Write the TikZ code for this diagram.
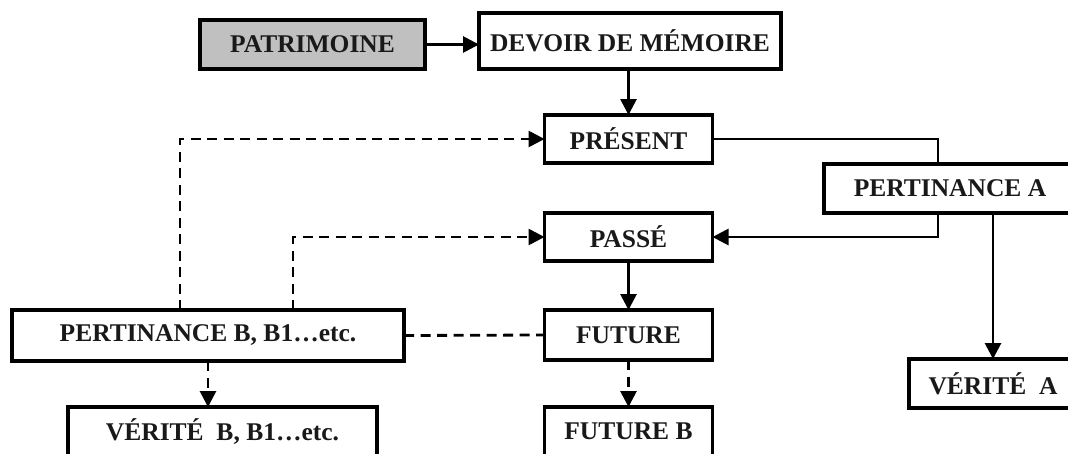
\documentclass[tikz,border=0pt]{standalone}
\usepackage{fontspec}
\setmainfont{Liberation Serif}
\usetikzlibrary{arrows.meta}
\definecolor{boxgray}{RGB}{192,192,192}
\tikzset{
  box/.style={draw=black, line width=3.2pt, fill=white, inner sep=0pt, outer sep=0pt,
    font=\fontsize{25.5}{30}\selectfont\bfseries, text=black!90},
  conn/.style={line width=2.8pt, draw=black},
  tip/.style={-{Triangle[length=16pt,width=16pt]}},
  dashconn/.style={conn, dash pattern=on 10pt off 6.5pt}
}
\begin{document}
\begin{tikzpicture}[x=1pt,y=-1pt]
\useasboundingbox (0,0) rectangle (1068,453);
\clip (0,0) rectangle (1068,453);
\fill[white] (0,0) rectangle (1068,453);
% boxes
\node[box, fill=boxgray, minimum width=225, minimum height=49] (pat) at (312.5,44.5) {PATRIMOINE};
\node[box, minimum width=302, minimum height=56] (dev) at (630,41) {DEVOIR DE MÉMOIRE};
\node[box, minimum width=168, minimum height=48] (pre) at (628.5,139) {PRÉSENT};
\node[box, minimum width=168, minimum height=48] (pas) at (628.5,237) {PASSÉ};
\node[box, minimum width=168, minimum height=50] (fut) at (628.5,335) {FUTURE};
\node[box, minimum width=168, minimum height=49] (fub) at (628.5,431.5) {FUTURE B};
\node[box, minimum width=392, minimum height=51] (pb) at (208,335.5) {PERTINANCE B, B1…etc.};
\node[box, minimum width=309, minimum height=49] (vb) at (222.5,431.5) {VÉRITÉ\enspace B, B1…etc.};
\node[box, minimum width=252, minimum height=49] (pa) at (950,188.5) {PERTINANCE A};
\node[box, minimum width=168, minimum height=49] (va) at (993,383.5) {VÉRITÉ\enspace A};
% solid connectors
\draw[conn, tip] (pat.east) -- (pat.east -| dev.west);
\draw[conn, tip] (pre.north |- dev.south) -- (pre.north);
\draw[conn, tip] (pas.south) -- (fut.north);
\draw[conn] (pre.east) -| ([xshift=-12]pa.north);
\draw[conn, tip] ([xshift=-12]pa.south) |- (pas.east);
\draw[conn, tip] (va.north |- pa.south) -- (va.north);
% dashed connectors
\draw[dashconn, tip] ([xshift=-28]pb.north) |- (pre.west);
\draw[dashconn, tip] ([xshift=85]pb.north) |- (pas.west);
\draw[dashconn] (pb.east) -- (fut.west);
\draw[dashconn, tip] (fut.south) -- (fub.north);
\draw[dashconn, tip] (pb.south) -- (pb.south |- vb.north);
\end{tikzpicture}
\end{document}
